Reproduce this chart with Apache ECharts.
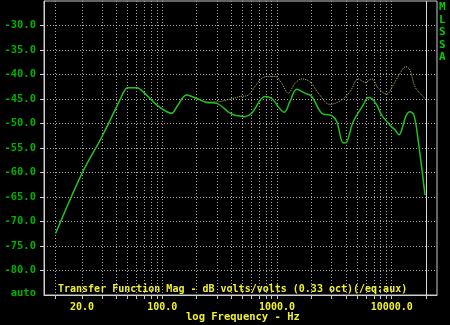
<!DOCTYPE html>
<html><head><meta charset="utf-8">
<script src="https://cdn.jsdelivr.net/npm/echarts@6/dist/echarts.min.js"></script>
<style>html,body{margin:0;padding:0;background:#000;}#c{width:450px;height:325px;}</style>
</head><body><div id="c"></div>
<script>
// Frequencies (Hz) and magnitudes (dB)
const freqGreen = [11.8,20,30,42.8,47,50,60,70,89.5,110,121,135,163,200,244,298,390,431,526,602,787,900,1159,1300,1486,1755,2008,2455,3000,3317,3787,4054,4627,5653,6250,6694,7397,8180,10000,10690,11580,12220,13240,14430,15630,17050,19500];
const dbGreen   = [-72.4,-60.2,-52.6,-45.2,-43.3,-42.7,-42.7,-43.8,-46.2,-47.6,-47.9,-46.5,-44.2,-44.9,-45.7,-45.9,-47.9,-48.3,-48.6,-47.9,-44.5,-44.9,-47.7,-45.5,-43.0,-43.8,-44.5,-47.9,-48.4,-49.6,-54.0,-53.8,-49.6,-46.2,-44.7,-44.9,-46.2,-48.3,-50.7,-51.3,-52.3,-51.3,-48.6,-47.6,-48.3,-53.7,-64.6];
const freqOlive = [11.8,20,30,42.8,47,50,60,70,89.5,110,121,135,163,200,244,298,365,477,562,640,720,813,961,1099,1256,1436,1641,1940,2291,2897,3661,4331,5117,5852,6694,7644,9040,10330,11780,13240,14430,15930,18200,19500];
const dbOlive   = [-72.4,-60.2,-52.6,-45.2,-43.3,-42.7,-42.7,-43.8,-46.2,-47.6,-47.9,-46.5,-44.2,-44.9,-45.6,-45.6,-45.2,-44.5,-44.2,-42.5,-41.0,-40.4,-40.4,-41.8,-43.8,-41.8,-40.9,-41.5,-43.8,-46.1,-45.2,-43.5,-40.9,-41.6,-40.9,-42.8,-44.0,-42.1,-39.8,-38.4,-39.1,-42.5,-44.2,-44.9];
const xGridTicks = [11.8,20,30,40,50,60,70,80,90,100,200,300,400,500,600,700,800,900,1000,2000,3000,4000,5000,6000,7000,8000,9000,10000,20000];
const xLabelTicks = [20,100,1000,10000];
const yTickVals = [-80,-75,-70,-65,-60,-55,-50,-45,-40,-35,-30];
const markerFreq = [20000];
const titleText = 'Transfer Function Mag - dB volts/volts (0.33 oct)(/eq:aux)';
const xName = 'log Frequency - Hz';
const sideText = 'M\nL\nS\nS\nA';

const zip = (a,b) => a.map((v,i)=>[v,b[i]]);
const mono = 'DejaVu Sans Mono';
const chart = echarts.init(document.getElementById('c'), null, {renderer:'canvas'});
chart.setOption({
  backgroundColor:'#000',
  animation:false,
  title:{text:titleText, left:58, top:284, padding:0,
    textStyle:{color:'#f0f030', fontFamily:mono, fontSize:10, fontWeight:'bold'}},
  graphic:[
    {type:'text', left:439, top:1,
     style:{text:sideText, fill:'#00d000', font:'bold 11px "DejaVu Sans Mono"', lineHeight:12.5}},
    {type:'text', left:186, top:312,
     style:{text:xName, fill:'#f0f030', font:'bold 10.5px "DejaVu Sans Mono"'}}
  ],
  grid:{left:44, right:13, top:1, bottom:30, outerBoundsMode:'none', containLabel:false,
    show:true, borderColor:'#c8c8c8', borderWidth:1, backgroundColor:'#000'},
  xAxis:{type:'log', logBase:10, min:9.34, max:24800,
    axisLine:{show:true, lineStyle:{color:'#d0d0d0'}},
    axisTick:{show:true, customValues:xGridTicks, length:4, lineStyle:{color:'#c8c8c8'}},
    axisLabel:{customValues:xLabelTicks, formatter:v=>Number(v).toFixed(1), color:'#f0f030',
      fontFamily:mono, fontSize:10, fontWeight:'bold', margin:7},
    splitLine:{show:true, lineStyle:{color:'#a8a8a8', type:[1,2], width:1}}},
  yAxis:{type:'value', min:-85, max:-25, interval:5,
    axisLine:{show:true, lineStyle:{color:'#d0d0d0'}},
    axisTick:{show:true, length:4, customValues:yTickVals, lineStyle:{color:'#d0d0d0'}},
    axisLabel:{color:'#00b000', fontFamily:mono, fontSize:10.5, fontWeight:'bold', margin:8,
      formatter:v=> v===-85?'{a|auto}':(v===-25?'':v.toFixed(1)),
      rich:{a:{color:'#00b000', fontFamily:mono, fontSize:10.5, fontWeight:'bold', padding:[0,0,4,0]}}},
    splitLine:{show:true, lineStyle:{color:'#a8a8a8', type:[1,2], width:1}}},
  series:[
    {type:'line', data:zip(freqOlive,dbOlive), showSymbol:false, smooth:0.35,
     lineStyle:{color:'#b8b868', width:1, type:[1,1]}, z:2,
     markLine:{symbol:'none', silent:true, label:{show:false},
       lineStyle:{color:'#d8d8d8', type:'solid', width:1}, data:markerFreq.map(f=>({xAxis:f}))}},
    {type:'line', data:zip(freqGreen,dbGreen), showSymbol:false, smooth:0.35,
     lineStyle:{color:'#20c020', width:1.5}, z:3}
  ]
});
</script></body></html>
